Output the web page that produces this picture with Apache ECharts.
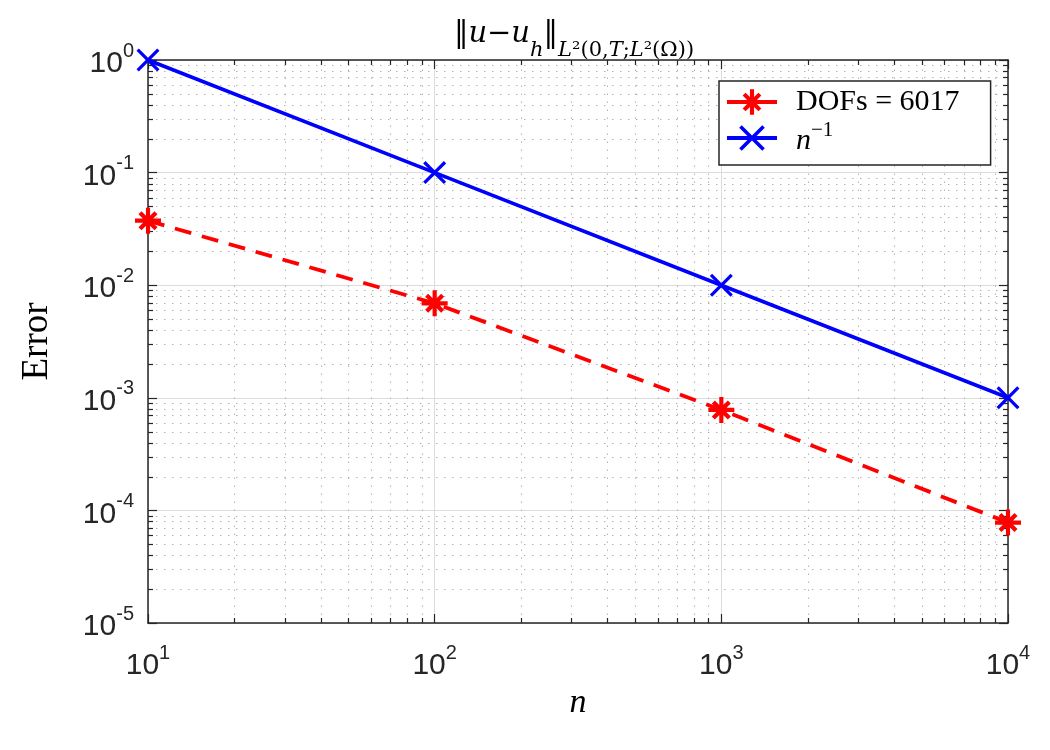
<!DOCTYPE html>
<html>
<head>
<meta charset="utf-8">
<script src="https://cdn.jsdelivr.net/npm/echarts@6/dist/echarts.min.js"></script>
<style>
html,body{margin:0;padding:0;background:#fff;}
#chart{width:1050px;height:750px;}
</style>
</head>
<body>
<div id="chart"></div>
<script>
// data
let nValues=[10,100,1000,10000];
let errDofs=[0.0374,0.0069,0.00078,0.000078];
let refRate=[1,0.1,0.01,0.001];
let xRange=[10,10000];
let yRange=[1e-5,1];
let xMinorTicks=[];
let yMinorTicks=[];
for(let k=1;k<=3;k++){
	for(let d=2;d<=9;d++){ xMinorTicks.push(d*Math.pow(10,k)); }
}
for(let k=-5;k<=-1;k++){
	for(let d=2;d<=9;d++){ yMinorTicks.push(d*Math.pow(10,k)); }
}

let axisColor="#262626";
let sans="Liberation Sans, Arial, Helvetica, sans-serif";
let serif="Liberation Serif, DejaVu Serif, serif";
let mathFont="DejaVu Serif, serif";

//星号 (+ 和 x 组合)
let starPath="path://M-1.6,-10 L1.6,-10 L1.6,-1.6 L10,-1.6 L10,1.6 L1.6,1.6 L1.6,10 L-1.6,10 L-1.6,1.6 L-10,1.6 L-10,-1.6 L-1.6,-1.6 Z"
	+" M-7.3,-5 L-5,-7.3 L0,-2.3 L5,-7.3 L7.3,-5 L2.3,0 L7.3,5 L5,7.3 L0,2.3 L-5,7.3 L-7.3,5 L-2.3,0 Z";
let crossPath="path://M-10,-8 L-8,-10 L0,-2 L8,-10 L10,-8 L2,0 L10,8 L8,10 L0,2 L-8,10 L-10,8 L-2,0 Z";

function powLabel(v){
	return "{b|10}{e|"+Math.round(Math.log10(v))+"}";
}
let powRich={
	b:{fontFamily:sans,fontSize:30,color:axisColor,lineHeight:38,verticalAlign:"bottom"},
	e:{fontFamily:sans,fontSize:20,color:axisColor,lineHeight:20,verticalAlign:"top"}
};

function toPairs(ys){
	return nValues.map(function(x,i){ return [x,ys[i]]; });
}

/**次网格线和次刻度*/
function renderMinor(params,api){
	let children=[];
	let gridStyle={stroke:"#b4b4b4",lineWidth:1,lineDash:[1.5,6.5]};
	let tickStyle={stroke:axisColor,lineWidth:1.2};
	let bl=api.coord([xRange[0],yRange[0]]);
	let tr=api.coord([xRange[1],yRange[1]]);
	xMinorTicks.forEach(function(v){
		let p=Math.round(api.coord([v,yRange[0]])[0])+0.5;
		children.push({type:"line",shape:{x1:p,y1:bl[1],x2:p,y2:tr[1]},style:gridStyle,silent:true});
		children.push({type:"line",shape:{x1:p,y1:bl[1],x2:p,y2:bl[1]-5},style:tickStyle,silent:true});
		children.push({type:"line",shape:{x1:p,y1:tr[1],x2:p,y2:tr[1]+5},style:tickStyle,silent:true});
	});
	yMinorTicks.forEach(function(v){
		let p=Math.round(api.coord([xRange[0],v])[1])+0.5;
		children.push({type:"line",shape:{x1:bl[0],y1:p,x2:tr[0],y2:p},style:gridStyle,silent:true});
		children.push({type:"line",shape:{x1:bl[0],y1:p,x2:bl[0]+5,y2:p},style:tickStyle,silent:true});
		children.push({type:"line",shape:{x1:tr[0],y1:p,x2:tr[0]-5,y2:p},style:tickStyle,silent:true});
	});
	return {type:"group",children:children};
}

let chart=echarts.init(document.getElementById("chart"));
let option={
	backgroundColor:"#fff",
	animation:false,
	title:{
		text:"{n|‖}{i|u}{n|−}{i|u}{si|h}{n|‖}{si|L}{s|²(0,}{si|T}{s|;}{si|L}{s|²(Ω))}",
		left:574,
		top:20,
		padding:0,
		textAlign:"center",
		textStyle:{
			fontWeight:"normal",
			rich:{
				n:{fontFamily:mathFont,fontSize:29,fontWeight:"normal",color:"#000",lineHeight:29,verticalAlign:"top"},
				i:{fontFamily:mathFont,fontSize:29,fontWeight:"normal",fontStyle:"italic",color:"#000",lineHeight:29,verticalAlign:"top"},
				s:{fontFamily:mathFont,fontSize:21,fontWeight:"normal",color:"#000",lineHeight:41,verticalAlign:"bottom"},
				si:{fontFamily:mathFont,fontSize:21,fontWeight:"normal",fontStyle:"italic",color:"#000",lineHeight:41,verticalAlign:"bottom"}
			}
		}
	},
	legend:{
		data:[
			{name:"DOFs = 6017",lineStyle:{type:"solid",width:4}},
			{name:"n^-1",lineStyle:{width:4}}
		],
		orient:"vertical",
		left:719,
		top:81,
		itemWidth:50,
		itemHeight:32,
		itemGap:3,
		padding:[6,31,9,6],
		borderColor:axisColor,
		borderWidth:1.5,
		backgroundColor:"#fff",
		formatter:function(name){
			if(name==="n^-1"){ return "{i|n}{e|−1}"; }
			return "{t|"+name+"}";
		},
		textStyle:{
			padding:[0,0,0,14],
			rich:{
				t:{fontFamily:serif,fontSize:30,color:"#000",lineHeight:36},
				i:{fontFamily:serif,fontSize:30,fontStyle:"italic",color:"#000",lineHeight:36,verticalAlign:"bottom"},
				e:{fontFamily:serif,fontSize:21,color:"#000",lineHeight:21,verticalAlign:"top"}
			}
		}
	},
	grid:{left:148,right:42,top:60,bottom:127,containLabel:false},
	xAxis:[{
		type:"log",
		logBase:10,
		min:xRange[0],
		max:xRange[1],
		interval:1,
		position:"bottom",
		name:"n",
		nameLocation:"middle",
		nameGap:62,
		nameTextStyle:{fontFamily:serif,fontSize:34,fontStyle:"italic",color:"#000"},
		axisLine:{lineStyle:{color:axisColor,width:1.5}},
		axisTick:{inside:true,length:9,lineStyle:{color:axisColor,width:1.2}},
		axisLabel:{margin:20,formatter:powLabel,rich:powRich},
		splitLine:{show:true,lineStyle:{color:"#dcdcdc",width:1}}
	},{
		type:"log",
		logBase:10,
		min:xRange[0],
		max:xRange[1],
		interval:1,
		position:"top",
		axisLine:{lineStyle:{color:axisColor,width:1.5}},
		axisTick:{inside:true,length:9,lineStyle:{color:axisColor,width:1.2}},
		axisLabel:{show:false},
		splitLine:{show:false}
	}],
	yAxis:[{
		type:"log",
		logBase:10,
		min:yRange[0],
		max:yRange[1],
		interval:1,
		position:"left",
		name:"Error",
		nameLocation:"middle",
		nameGap:92,
		nameRotate:90,
		nameTextStyle:{fontFamily:serif,fontSize:37,color:"#000"},
		axisLine:{lineStyle:{color:axisColor,width:1.5}},
		axisTick:{inside:true,length:9,lineStyle:{color:axisColor,width:1.2}},
		axisLabel:{margin:14,formatter:powLabel,rich:powRich},
		splitLine:{show:true,lineStyle:{color:"#dcdcdc",width:1}}
	},{
		type:"log",
		logBase:10,
		min:yRange[0],
		max:yRange[1],
		interval:1,
		position:"right",
		axisLine:{lineStyle:{color:axisColor,width:1.5}},
		axisTick:{inside:true,length:9,lineStyle:{color:axisColor,width:1.2}},
		axisLabel:{show:false},
		splitLine:{show:false}
	}],
	series:[{
		type:"custom",
		name:"minor",
		silent:true,
		clip:false,
		z:1,
		renderItem:renderMinor,
		data:[[xRange[0],yRange[0]]]
	},{
		type:"line",
		name:"DOFs = 6017",
		z:3,
		data:toPairs(errDofs),
		symbol:starPath,
		symbolSize:26,
		lineStyle:{color:"#ff0000",width:3.8,type:[17,11]},
		itemStyle:{color:"#ff0000"}
	},{
		type:"line",
		name:"n^-1",
		z:3,
		data:toPairs(refRate),
		symbol:crossPath,
		symbolSize:23,
		lineStyle:{color:"#0000ff",width:3.6},
		itemStyle:{color:"#0000ff"}
	}]
};
chart.setOption(option);
</script>
</body>
</html>
